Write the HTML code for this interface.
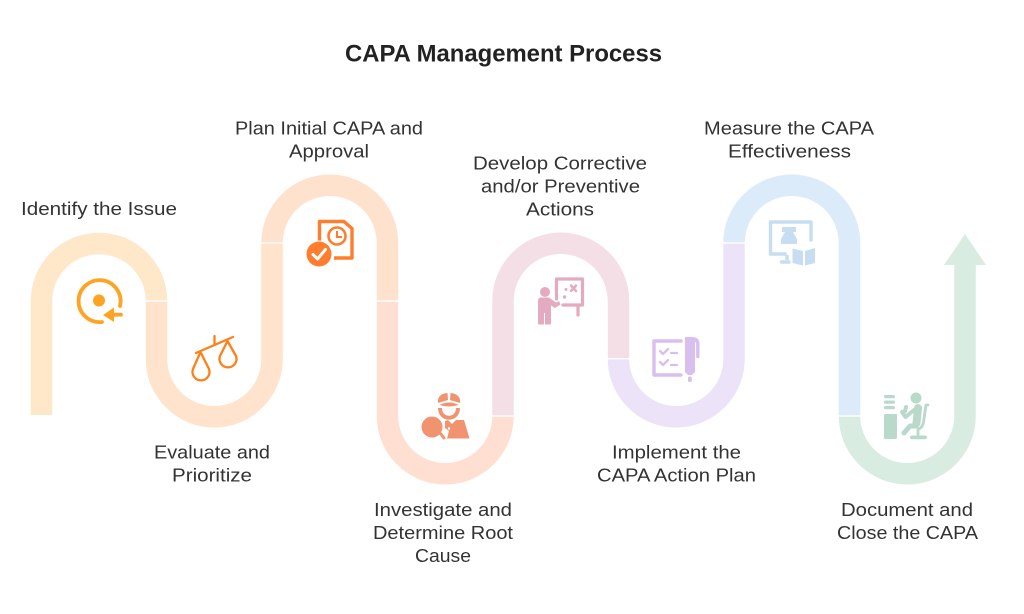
<!DOCTYPE html>
<html><head><meta charset="utf-8"><style>
html,body{margin:0;padding:0;background:#fff}
svg{display:block}
text{font-family:"Liberation Sans",sans-serif;font-size:18.5px;fill:#333}
.b{fill:none;stroke-width:21.5}
</style></head><body>
<svg width="1024" height="614" viewBox="0 0 1024 614" xmlns="http://www.w3.org/2000/svg">
<rect width="1024" height="614" fill="#fff"/>
<path class="b" stroke="#FFE7CA" d="M41.500 415V301A57.500 57.500 0 0 1 156.500 301"/>
<path class="b" stroke="#FFE3CC" d="M156.500 301V359A57.750 57.750 0 0 0 272 359V243"/>
<path class="b" stroke="#FFE2CE" d="M272 243A57.750 57.750 0 0 1 387.500 243V301"/>
<path class="b" stroke="#FFDFD2" d="M387.500 301V416A57.750 57.750 0 0 0 503 416"/>
<path class="b" stroke="#F5DFE6" d="M503 416V301A57.750 57.750 0 0 1 618.500 301V359"/>
<path class="b" stroke="#ECE3F9" d="M618.500 359A57.750 57.750 0 0 0 734 359V243"/>
<path class="b" stroke="#DBEBF9" d="M734 243A57.750 57.750 0 0 1 849.500 243V416"/>
<path class="b" stroke="#D9ECE2" d="M849.500 416A57.750 57.750 0 0 0 965 416V264"/>
<path fill="#D9ECE2" d="M965 234L986 265H944Z"/>
<g fill="#fff">
<rect x="144" y="300.300" width="25" height="1.400"/>
<rect x="260" y="242.300" width="25" height="1.400"/>
<rect x="376" y="300.300" width="25" height="1.400"/>
<rect x="491" y="415.300" width="25" height="1.400"/>
<rect x="607" y="358" width="25" height="1.400"/>
<rect x="722" y="242.300" width="25" height="1.400"/>
<rect x="838" y="415.300" width="25" height="1.400"/>
</g>

<!-- icon 1 -->
<g fill="#FFA322" stroke="none">
<path fill="none" stroke="#FFA322" stroke-width="3.800" stroke-linecap="round" d="M102 322A21 21 0 1 1 120 306"/>
<circle cx="99" cy="300.500" r="6"/>
<path d="M103 315L114 307.500V312.800H121a1.700 1.700 0 0 1 0 3.800H114V322Z"/>
</g>
<!-- icon 2 -->
<g fill="none" stroke="#FF8019" stroke-width="2.300" stroke-linecap="round" stroke-linejoin="round">
<path d="M196 353L233 337M214.500 336V345"/>
<path d="M200.500 352L193 369A8.500 8.500 0 1 0 209 369Z"/>
<path d="M227.500 341L220 356A8.500 8.500 0 1 0 236 356Z"/>
</g>
<!-- icon 3 -->
<g>
<path fill="none" stroke="#FF7D2E" stroke-width="3.400" stroke-linejoin="round" d="M319.500 241V221.500H344L352 228.500V258H334"/>
<circle cx="337" cy="236" r="8.500" fill="none" stroke="#FF7D2E" stroke-width="2.600"/>
<path fill="none" stroke="#FF7D2E" stroke-width="2" d="M337 231V237H342"/>
<circle cx="319" cy="254" r="13.500" fill="#fff"/>
<circle cx="319" cy="254" r="12.500" fill="#FF7D2E"/>
<path fill="none" stroke="#fff" stroke-width="3" stroke-linecap="round" stroke-linejoin="round" d="M313 254.500L317.500 259L325.500 249.500"/>
</g>
<!-- icon 4 -->
<g fill="#F2936F">
<path d="M438 403Q437 394 447.500 393L448 400L438 403ZM460 403Q461 394 450.500 393L450 400L460 403ZM439.500 405Q449 400 458.500 405Q449 408 439.500 405Z"/>
<path fill="none" stroke="#F2936F" stroke-width="4" d="M440 408C440 421 458 421 458 408"/>
<circle cx="432" cy="427" r="10.500"/>
<path fill="none" stroke="#F2936F" stroke-width="3" stroke-linecap="round" d="M440 433L444 438"/>
<path d="M445 421L448 420L452 424L456 420H464L469.500 438.500H447L449 431L445 428Z"/>
<circle cx="449" cy="428.500" r="1.200" fill="#fff"/>
</g>
<!-- icon 5 -->
<g fill="#E4ABC0">
<circle cx="545" cy="292" r="5"/>
<path d="M541 297.500H549L556 302.500L559 301L560.500 304.500L555 308L551 305.500V323a1.500 1.500 0 0 1-1.500 1.500H545V313H544V324.500H539.500a1.500 1.500 0 0 1-1.500-1.500V301Q538 297.500 541 297.500Z"/>
<path fill="none" stroke="#E4ABC0" stroke-width="3.200" stroke-linecap="round" stroke-linejoin="round" d="M556.500 299V279H582.500V305H563M578 306V315"/>
<path fill="none" stroke="#E4ABC0" stroke-width="2.500" stroke-linecap="round" d="M571 285.500L576 291M576 285.500L571 291"/>
<circle cx="566" cy="289.500" r="1.500"/><circle cx="564.500" cy="297" r="1.700"/>
</g>
<!-- icon 6 -->
<g>
<path fill="none" stroke="#D8BFF0" stroke-width="3.400" stroke-linecap="round" stroke-linejoin="round" d="M681 341H654V375H681"/>
<path fill="none" stroke="#D8BFF0" stroke-width="2.300" stroke-linecap="round" stroke-linejoin="round" d="M660 351L663 354L668 349M660 362L663 365L668 360M671 353H677M671 365H677"/>
<path fill="#D8BFF0" d="M685 337H692Q699.500 337 699.500 344V356.500a1.700 1.700 0 0 1-3.400 0V344Q696 342 695 342V372L692 375H688L685 372Z"/>
<rect x="688" y="376.500" width="3.800" height="5.500" rx="1.500" fill="#D8BFF0"/>
</g>
<!-- icon 7 -->
<g>
<path fill="none" stroke="#C6DDF2" stroke-width="3.400" stroke-linecap="round" stroke-linejoin="round" d="M811 240V222H770.500V254H785M781.500 262H789"/>
<path fill="none" stroke="#C6DDF2" stroke-width="3.400" d="M787 255V260"/>
<path fill="#C6DDF2" d="M782 227H796V232H793L797 239V244H781V239L785 232H782Z"/>
<path fill="#C6DDF2" d="M792.500 248.500L803 251V265.500L792.500 263ZM805 251L815 248V263L805 265.500Z"/>
</g>
<!-- icon 8 -->
<g fill="#B9DACA">
<rect x="884" y="395" width="11" height="3.200" rx="1.500"/><rect x="884" y="400.500" width="11" height="3.200" rx="1.500"/><rect x="884" y="406" width="11" height="3.200" rx="1.500"/>
<path d="M885.500 414H897V437.500a1.500 1.500 0 0 1-1.500 1.500H885.500A1.500 1.500 0 0 1 884 437.500V415.500A1.500 1.500 0 0 1 885.500 414Z"/>
<circle cx="916" cy="398" r="5.500"/>
<path fill="none" stroke="#B9DACA" stroke-width="8" stroke-linecap="round" d="M918 408L916.500 423"/>
<path fill="none" stroke="#B9DACA" stroke-width="4" stroke-linecap="round" stroke-linejoin="round" d="M914 410L905.500 417L902 412M906 407L905 411"/>
<path fill="none" stroke="#B9DACA" stroke-width="5" stroke-linecap="round" stroke-linejoin="round" d="M916 426H910L904 433"/>
<path fill="none" stroke="#B9DACA" stroke-width="2.800" stroke-linecap="round" stroke-linejoin="round" d="M928 405H926L923.500 422Q922.500 428 918 429V436"/>
<rect x="910" y="435.500" width="17" height="3.800" rx="1.900"/>
</g>

<g lengthAdjust="spacingAndGlyphs">
<text x="345" y="61.500" textLength="317" lengthAdjust="spacingAndGlyphs" style="font-size:24px;font-weight:bold;fill:#222">CAPA Management Process</text>
<text x="21" y="215" textLength="156" lengthAdjust="spacingAndGlyphs">Identify the Issue</text>
<text x="235" y="134.500" textLength="188" lengthAdjust="spacingAndGlyphs">Plan Initial CAPA and</text>
<text x="289" y="157.500" textLength="80" lengthAdjust="spacingAndGlyphs">Approval</text>
<text x="473" y="169.500" textLength="174" lengthAdjust="spacingAndGlyphs">Develop Corrective</text>
<text x="481" y="192.500" textLength="159" lengthAdjust="spacingAndGlyphs">and/or Preventive</text>
<text x="526" y="215.500" textLength="68" lengthAdjust="spacingAndGlyphs">Actions</text>
<text x="704" y="134.500" textLength="170" lengthAdjust="spacingAndGlyphs">Measure the CAPA</text>
<text x="728" y="157.500" textLength="123" lengthAdjust="spacingAndGlyphs">Effectiveness</text>
<text x="154" y="458.500" textLength="116" lengthAdjust="spacingAndGlyphs">Evaluate and</text>
<text x="172" y="481.500" textLength="80" lengthAdjust="spacingAndGlyphs">Prioritize</text>
<text x="374" y="516" textLength="138" lengthAdjust="spacingAndGlyphs">Investigate and</text>
<text x="373" y="539" textLength="140" lengthAdjust="spacingAndGlyphs">Determine Root</text>
<text x="415" y="562" textLength="56" lengthAdjust="spacingAndGlyphs">Cause</text>
<text x="612" y="458.500" textLength="129" lengthAdjust="spacingAndGlyphs">Implement the</text>
<text x="597" y="481.500" textLength="159" lengthAdjust="spacingAndGlyphs">CAPA Action Plan</text>
<text x="841" y="516" textLength="132" lengthAdjust="spacingAndGlyphs">Document and</text>
<text x="837" y="539" textLength="141" lengthAdjust="spacingAndGlyphs">Close the CAPA</text>
</g>
</svg>
</body></html>
